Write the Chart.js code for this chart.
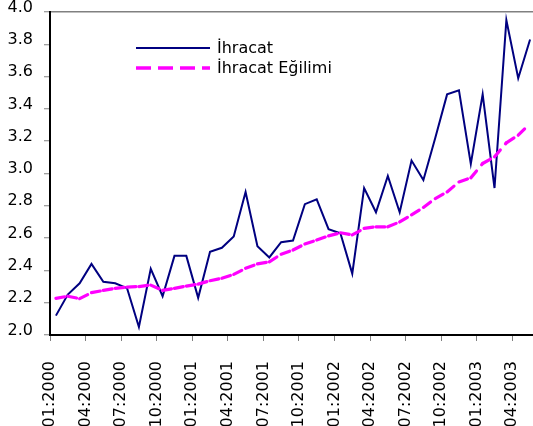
<!DOCTYPE html>
<html>
<head>
<meta charset="utf-8">
<script src="https://cdn.jsdelivr.net/npm/chart.js@4.4.1/dist/chart.umd.min.js"></script>
<style>
  html, body { margin: 0; padding: 0; background: #fff; overflow: hidden; width: 533px; height: 426px; }
  canvas { display: block; }
</style>
</head>
<body>
<canvas id="c" width="536" height="426"></canvas>
<script>
const categories = [
  '01:2000','02:2000','03:2000','04:2000','05:2000','06:2000','07:2000','08:2000','09:2000','10:2000','11:2000','12:2000',
  '01:2001','02:2001','03:2001','04:2001','05:2001','06:2001','07:2001','08:2001','09:2001','10:2001','11:2001','12:2001',
  '01:2002','02:2002','03:2002','04:2002','05:2002','06:2002','07:2002','08:2002','09:2002','10:2002','11:2002','12:2002',
  '01:2003','02:2003','03:2003','04:2003','05:2003'
];
const tickLabels = ['01:2000','04:2000','07:2000','10:2000','01:2001','04:2001','07:2001','10:2001','01:2002','04:2002','07:2002','10:2002','01:2003','04:2003'];
const ihracat = [
  2.12, 2.25, 2.32, 2.44, 2.33, 2.32, 2.29, 2.05, 2.41, 2.24, 2.49, 2.49,
  2.23, 2.515, 2.54, 2.61, 2.885, 2.55, 2.48, 2.575, 2.585, 2.81, 2.84, 2.655,
  2.63, 2.38, 2.91, 2.76, 2.985, 2.76, 3.08, 2.96, 3.22, 3.49, 3.515, 3.06,
  3.49, 2.91, 3.95, 3.59, 3.83
];
const egilim = [
  2.227, 2.24, 2.225, 2.262, 2.276, 2.289, 2.297, 2.30, 2.309, 2.276, 2.289, 2.303,
  2.315, 2.336, 2.351, 2.375, 2.413, 2.44, 2.453, 2.50, 2.526, 2.563, 2.588, 2.614,
  2.633, 2.62, 2.66, 2.67, 2.67, 2.70, 2.744, 2.79, 2.845, 2.886, 2.948, 2.973,
  3.062, 3.103, 3.19, 3.237, 3.31
];
const yTicks = [2.0, 2.2, 2.4, 2.6, 2.8, 3.0, 3.2, 3.4, 3.6, 3.8, 4.0];
const seriesNames = ['İhracat', 'İhracat Eğilimi'];

const FONT = { family: 'DejaVu Sans', size: 16 };
const tickPos = tickLabels.map(l => categories.indexOf(l) - 0.5);

const legendPlugin = {
  id: 'insideLegend',
  afterDraw(chart) {
    const ctx = chart.ctx;
    ctx.save();
    ctx.font = '16px "DejaVu Sans"';
    ctx.fillStyle = '#000';
    ctx.textAlign = 'left';
    ctx.textBaseline = 'alphabetic';
    ctx.strokeStyle = '#000080';
    ctx.lineWidth = 2;
    ctx.setLineDash([]);
    ctx.beginPath(); ctx.moveTo(136, 48); ctx.lineTo(210, 48); ctx.stroke();
    ctx.fillText(seriesNames[0], 217, 53);
    ctx.strokeStyle = '#FF00FF';
    ctx.lineWidth = 3.3;
    ctx.setLineDash([15, 7]);
    ctx.beginPath(); ctx.moveTo(136, 68); ctx.lineTo(210, 68); ctx.stroke();
    ctx.setLineDash([]);
    ctx.fillText(seriesNames[1], 217, 73);
    ctx.restore();
  }
};

new Chart(document.getElementById('c'), {
  type: 'line',
  data: {
    datasets: [
      {
        label: seriesNames[0],
        data: ihracat.map((v, i) => ({ x: i, y: v })),
        borderColor: '#000080',
        borderWidth: 2,
        pointRadius: 0,
        tension: 0,
        fill: false,
        order: 1
      },
      {
        label: seriesNames[1],
        data: egilim.map((v, i) => ({ x: i, y: v })),
        borderColor: '#FF00FF',
        borderWidth: 3.2,
        borderCapStyle: 'round',
        pointRadius: 0,
        tension: 0,
        fill: false,
        order: 0,
        segment: {
          borderDash: c => (c.p0DataIndex % 2 ? [9, 8] : [9.001, 8])
        }
      }
    ]
  },
  options: {
    responsive: false,
    animation: false,
    events: [],
    layout: { padding: { top: 12, left: 0, right: 0, bottom: 0 } },
    plugins: { legend: { display: false }, tooltip: { enabled: false } },
    scales: {
      x: {
        type: 'linear',
        min: -0.5,
        max: 40.5,
        afterBuildTicks: s => { s.ticks = tickPos.map(v => ({ value: v })); },
        afterFit: s => { s.height = 91; s.paddingLeft = 0; s.paddingRight = 0; },
        ticks: {
          autoSkip: false,
          minRotation: 90,
          maxRotation: 90,
          padding: 20,
          color: '#000',
          font: FONT,
          callback: v => categories[Math.round(v + 0.5)]
        },
        grid: { drawOnChartArea: false, tickLength: 6, tickColor: '#808080', tickWidth: 1 },
        border: { color: '#000', width: 2 }
      },
      y: {
        min: 2.0,
        max: 4.0,
        afterBuildTicks: s => { s.ticks = yTicks.map(v => ({ value: v })); },
        afterFit: s => { s.width = 50; s.paddingTop = 0; s.paddingBottom = 0; },
        ticks: {
          padding: 11,
          labelOffset: -4.5,
          color: '#000',
          font: FONT,
          callback: v => Number(v).toFixed(1)
        },
        grid: {
          color: c => (c.tick && c.tick.value === 4 ? '#808080' : 'rgba(0,0,0,0)'),
          lineWidth: 1.5,
          tickLength: 6,
          tickColor: '#808080',
          tickWidth: 1
        },
        border: { color: '#000', width: 2 }
      }
    }
  },
  plugins: [legendPlugin]
});
</script>
</body>
</html>
